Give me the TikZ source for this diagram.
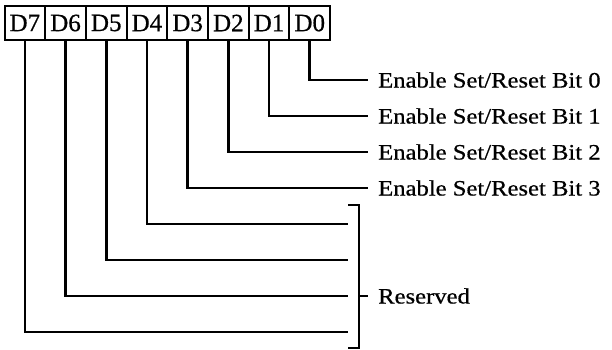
\documentclass[tikz,border=0pt]{standalone}
\usepackage{fontspec}
\setmainfont{Liberation Serif}[FakeBold=0.6]
\newfontfamily\labelfont{Liberation Serif}[FakeStretch=1.12,FakeBold=0.6]
\usetikzlibrary{calc}

\begin{document}
\begin{tikzpicture}[x=1pt,y=-1pt,
    cell/.style={draw,line width=2pt,minimum width=40.7pt,minimum height=34pt,
      inner sep=0pt,font=\fontsize{25}{28}\selectfont},
    lead/.style={line width=2.6pt},
    bitlabel/.style={anchor=west,inner xsep=10pt,inner ysep=0pt,
      font=\labelfont\fontsize{22}{26}\selectfont}]

	\useasboundingbox (0,0) rectangle (612,350);

	% Register cells
	\foreach \b in {0,...,7}
	\node[cell] (d\b) at ({24.85+40.7*(7-\b)},23) {D\b};

	% Enable Set/Reset bits
	\foreach \b in {0,...,3}
	\node[bitlabel] (bit\b) at (368,{80+36*\b}) {Enable Set/Reset Bit \b};
	\foreach \b in {0,...,3}
	\draw[lead] (d\b.south) |- (bit\b.west);

	% Reserved bits
	\foreach \b in {4,...,7}
	\coordinate (r\b) at (348,{80+36*\b});
	\foreach \b in {4,...,7}
	\draw[lead] (d\b.south) |- (r\b);

	% Bracket
	\coordinate (btop) at (348,205);
	\coordinate (bmid) at (359,296);
	\draw[lead] (btop) -- ++(11,0) -- ++(0,143) -- ++(-11,0);
	\node[bitlabel] (reserved) at (368,296) {Reserved};
	\draw[lead] (bmid) -- (reserved.west);

\end{tikzpicture}
\end{document}
